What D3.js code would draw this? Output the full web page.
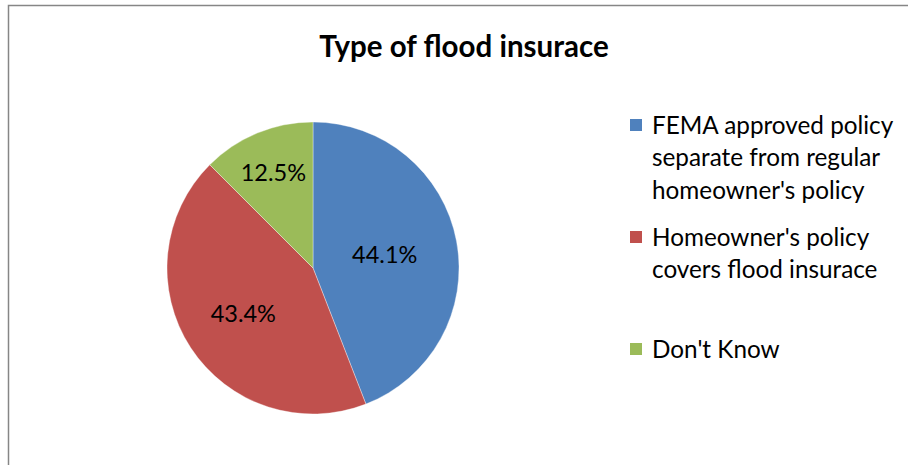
<!DOCTYPE html>
<html><head><meta charset="utf-8">
<script src="https://cdn.jsdelivr.net/npm/d3@7/dist/d3.min.js"></script>
<style>
html,body{margin:0;padding:0;background:#fff;}
svg{display:block;font-family:Lato,"Open Sans",sans-serif;}
</style></head>
<body>
<svg id="chart" width="908" height="465"></svg>
<script>
const title = "Type of flood insurace";
const categories = [
  "FEMA approved policy separate from regular homeowner's policy",
  "Homeowner's policy covers flood insurace",
  "Don't Know"
];
const legendLines = [
  ["FEMA approved policy", "separate from regular", "homeowner's policy"],
  ["Homeowner's policy", "covers flood insurace"],
  ["Don't Know"]
];
const values = [44.1, 43.4, 12.5];
const colors = ["#4F81BD", "#C0504D", "#9BBB59"];

// layout
const W = 908, H = 465;
const cx = 313, cy = 268, R = 146;
const labelRadiusFrac = [0.50, 0.57, 0.71];

const svg = d3.select("#chart");

svg.append("rect")
  .attr("x", 8.5).attr("y", 5.5)
  .attr("width", W + 20).attr("height", H + 20)
  .attr("fill", "#fff").attr("stroke", "#868686").attr("stroke-width", 1.5);

svg.append("text")
  .attr("x", 464).attr("y", 57)
  .attr("text-anchor", "middle")
  .attr("font-weight", "bold")
  .attr("font-size", 29.5)
  .attr("fill", "#000")
  .text(title);

const pie = d3.pie().sort(null).value(d => d)
  .startAngle(0).endAngle(2 * Math.PI);
const arcs = pie(values);
const arc = d3.arc().innerRadius(0).outerRadius(R);

const g = svg.append("g").attr("transform", `translate(${cx},${cy})`);
g.selectAll("path.slice").data(arcs).join("path")
  .attr("class", "slice")
  .attr("d", arc)
  .attr("fill", (d, i) => colors[i])
  .attr("stroke", "#ffffff")
  .attr("stroke-opacity", 0.6)
  .attr("stroke-width", 0.6);

const fmt = d3.format(".1f");
g.selectAll("text.lbl").data(arcs).join("text")
  .attr("class", "lbl")
  .attr("transform", (d, i) => {
    const r = R * labelRadiusFrac[i];
    const a = (d.startAngle + d.endAngle) / 2;
    return `translate(${r * Math.sin(a)},${-r * Math.cos(a)})`;
  })
  .attr("text-anchor", "middle")
  .attr("dy", "0.36em")
  .attr("font-size", 23.5)
  .attr("fill", "#000")
  .text(d => fmt(d.value) + "%");

// legend
const legendTop = [125, 237, 349];
const lineH = 32.5;
const lg = svg.append("g");
legendLines.forEach((lines, i) => {
  lg.append("rect")
    .attr("x", 630).attr("y", legendTop[i] - 6)
    .attr("width", 12).attr("height", 12)
    .attr("fill", colors[i]);
  lines.forEach((t, j) => {
    lg.append("text")
      .attr("x", 652).attr("y", legendTop[i] + j * lineH)
      .attr("dy", "0.36em")
      .attr("font-size", 24.3)
      .attr("fill", "#000")
      .text(t);
  });
});
</script>
</body></html>
